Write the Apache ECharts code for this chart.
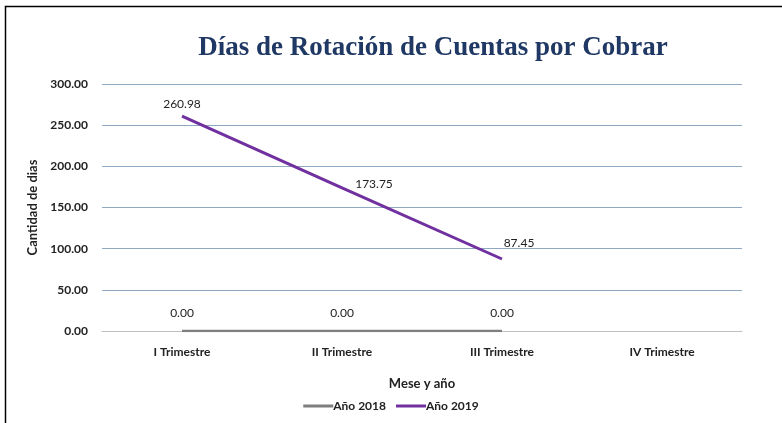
<!DOCTYPE html>
<html>
<head>
<meta charset="utf-8">
<script src="https://cdn.jsdelivr.net/npm/echarts@6/dist/echarts.min.js"></script>
<style>
  html, body { margin: 0; padding: 0; background: #fff; }
  #rotacionChart { width: 782px; height: 423px; }
</style>
</head>
<body>
<div id="rotacionChart"></div>
<script>
const categories = ["I Trimestre", "II Trimestre", "III Trimestre", "IV Trimestre"];
const serie2018 = [0, 0, 0, null];
const serie2019 = [260.98, 173.75, 87.45, null];
const yTicks = [0, 50, 100, 150, 200, 250, 300];

const chart = echarts.init(document.getElementById("rotacionChart"));
const labelFont = { fontFamily: "Lato", fontSize: 12, color: "#222" };
const boldFont = { fontFamily: "Lato", fontWeight: "bold", color: "#222" };
const fmt = (p) => (p.value == null ? "" : Number(p.value).toFixed(2));

const option = {
  animation: false,
  backgroundColor: "#fff",
  color: ["#7F7F7F", "#7030A0"],
  graphic: [
    {
      type: "rect",
      shape: { x: 5.5, y: 6.5, width: 800, height: 450 },
      style: { fill: "none", stroke: "#000", lineWidth: 1.5 },
    },
  ],
  title: {
    text: "Días de Rotación de Cuentas por Cobrar",
    left: 428,
    top: 30,
    textAlign: "center",
    textStyle: {
      fontFamily: "Liberation Serif",
      fontWeight: "bold",
      fontSize: 27,
      color: "#1F3864",
    },
  },
  legend: {
    bottom: 6,
    left: "center",
    itemWidth: 30,
    itemHeight: 3,
    itemGap: 10,
    icon: "rect",
    textStyle: { ...boldFont, fontSize: 12, padding: [0, 0, 0, -5] },
    data: ["Año 2018", "Año 2019"],
  },
  grid: { left: 102, right: 40, top: 84, bottom: 92 },
  xAxis: {
    type: "category",
    data: categories,
    name: "Mese y año",
    nameLocation: "middle",
    nameGap: 46,
    nameMoveOverlap: false,
    nameTextStyle: { ...boldFont, fontSize: 13 },
    axisLine: { lineStyle: { color: "#BFBFBF" } },
    axisTick: { show: false },
    axisLabel: { ...boldFont, fontSize: 12, margin: 15 },
  },
  yAxis: {
    type: "value",
    min: yTicks[0],
    max: yTicks[yTicks.length - 1],
    interval: 50,
    name: "Cantidad de dias",
    nameLocation: "middle",
    nameGap: 63,
    nameMoveOverlap: false,
    nameTextStyle: { ...boldFont, fontSize: 13 },
    axisLine: { show: false },
    axisTick: { show: false },
    axisLabel: {
      ...boldFont,
      fontSize: 12,
      margin: 14,
      formatter: (v) => v.toFixed(2),
    },
    splitLine: { lineStyle: { color: "#8EA9C1", width: 1 } },
  },
  series: [
    {
      name: "Año 2018",
      type: "line",
      data: serie2018,
      symbol: "circle",
      symbolSize: 0,
      showSymbol: true,
      lineStyle: { width: 2.5, color: "#7F7F7F" },
      label: {
        show: true,
        position: "top",
        distance: 12,
        formatter: fmt,
        ...labelFont,
      },
      z: 3,
    },
    {
      name: "Año 2019",
      type: "line",
      data: serie2019,
      symbol: "circle",
      symbolSize: 0,
      showSymbol: true,
      lineStyle: { width: 3, color: "#7030A0" },
      label: {
        show: true,
        position: "top",
        distance: 6,
        formatter: fmt,
        ...labelFont,
      },
      labelLayout: (p) => {
        // las etiquetas intermedias van a la derecha de la linea
        if (p.dataIndex === 1) return { dx: 32, dy: 8 };
        if (p.dataIndex === 2) return { dx: 17, dy: -4 };
        return { dx: 0, dy: 0 };
      },
      z: 4,
    },
  ],
};

chart.setOption(option);
</script>
</body>
</html>
